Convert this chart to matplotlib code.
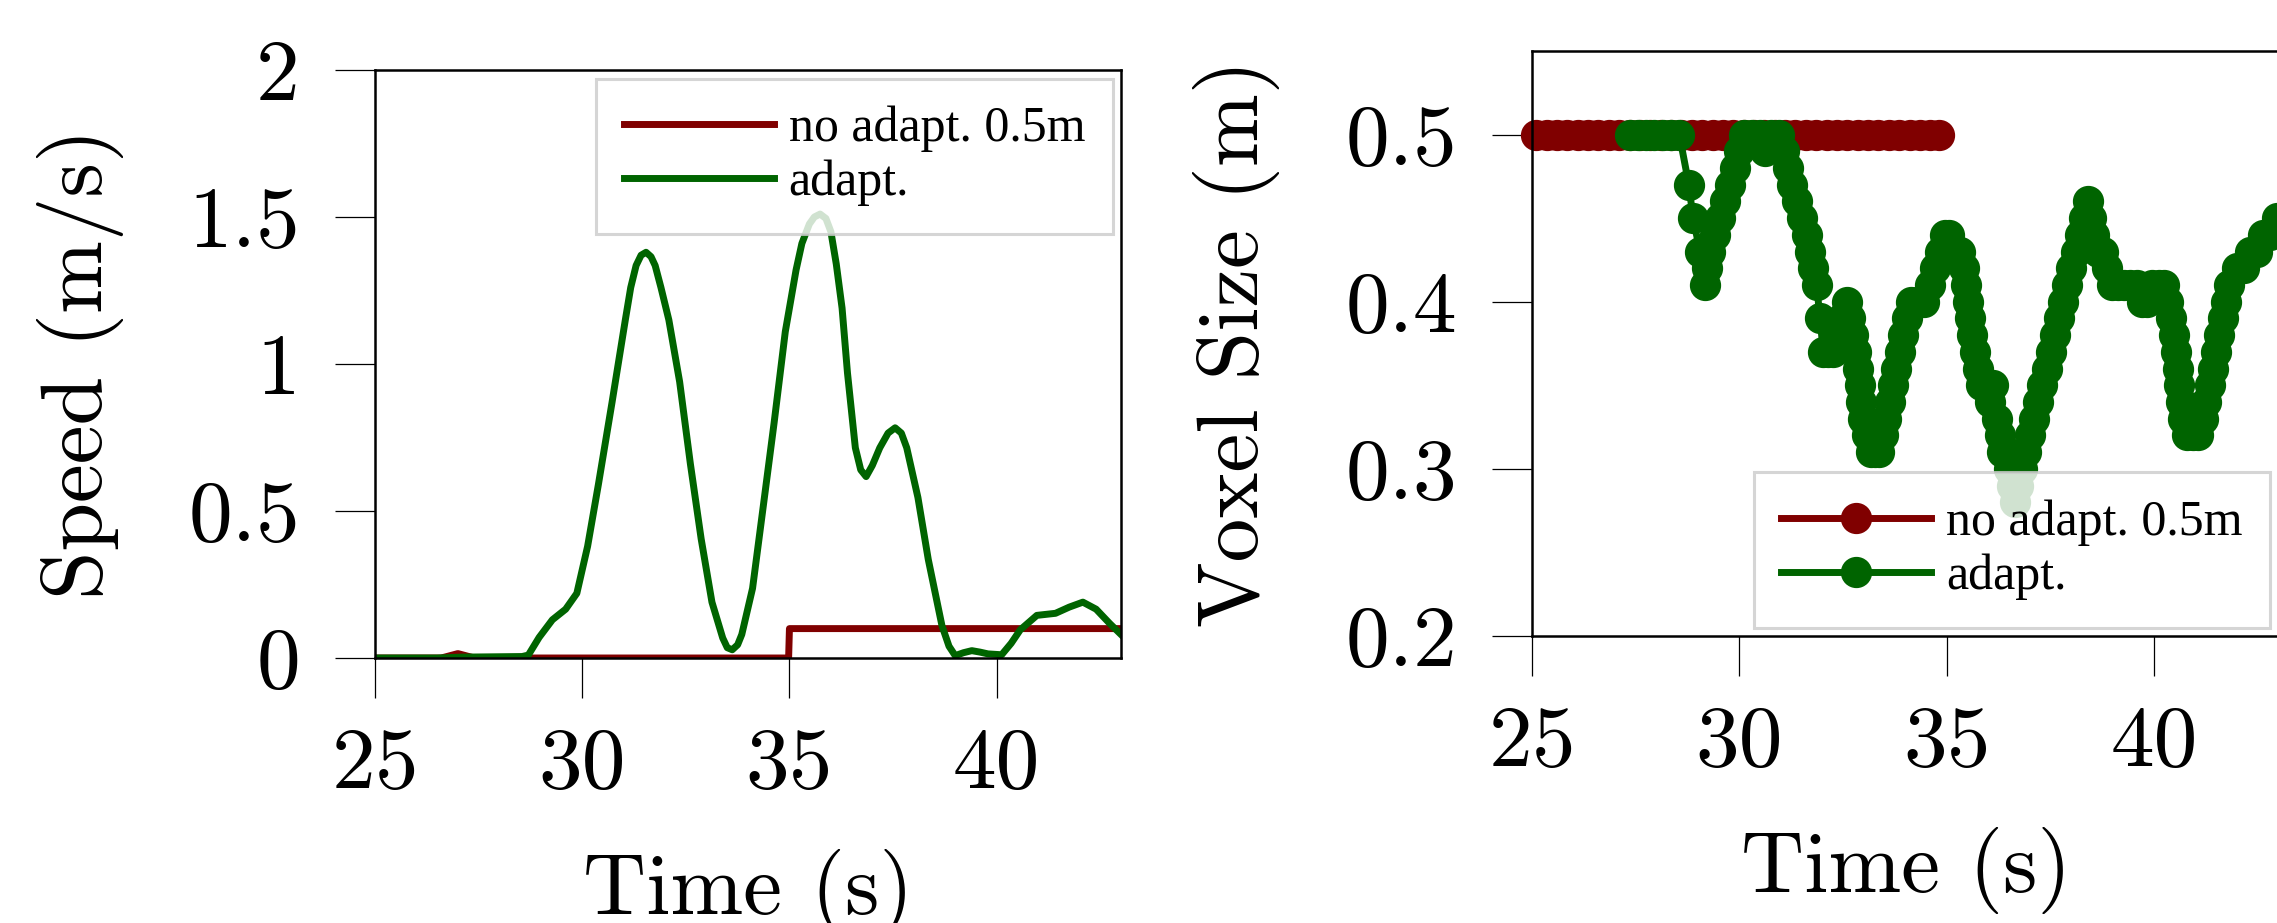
import matplotlib
matplotlib.use("Agg")
import matplotlib.pyplot as plt
from matplotlib.font_manager import FontProperties

# =====================================================
# DATA
# =====================================================

# left: speed over time
speed_noadapt_t = [25.0, 26.6, 27.0, 27.4, 28.0, 34.98, 35.0, 43.0]
speed_noadapt_v = [0.0, 0.0, 0.015, 0.0, 0.0, 0.0, 0.1, 0.1]

speed_adapt_t = [25.0, 26.5, 27.1, 28.55, 28.7, 28.96, 29.28, 29.6, 29.87, 30.13,
                 30.39, 30.72, 31.04, 31.17, 31.3, 31.42, 31.54, 31.66, 31.76, 31.9,
                 32.09, 32.35, 32.61, 32.87, 33.13, 33.39, 33.5, 33.62, 33.75, 33.85,
                 34.11, 34.37, 34.63, 34.9, 35.16, 35.3, 35.48, 35.6, 35.74, 35.88,
                 36.0, 36.13, 36.27, 36.4, 36.59, 36.72, 36.85, 37.0, 37.18, 37.38,
                 37.55, 37.7, 37.83, 38.1, 38.35, 38.68, 38.85, 39.0, 39.2, 39.4,
                 39.6, 39.79, 40.12, 40.35, 40.57, 40.97, 41.42, 41.75, 42.08, 42.4,
                 42.73, 43.0]
speed_adapt_v = [0.0, 0.0, 0.003, 0.005, 0.01, 0.07, 0.13, 0.166, 0.22, 0.38,
                 0.59, 0.87, 1.15, 1.26, 1.335, 1.37, 1.38, 1.365, 1.335, 1.26,
                 1.15, 0.94, 0.66, 0.405, 0.19, 0.068, 0.035, 0.028, 0.045, 0.08,
                 0.237, 0.518, 0.8, 1.11, 1.32, 1.41, 1.476, 1.5, 1.51, 1.495,
                 1.45, 1.34, 1.19, 0.97, 0.715, 0.64, 0.617, 0.655, 0.715, 0.765,
                 0.783, 0.765, 0.715, 0.546, 0.335, 0.11, 0.04, 0.008, 0.018, 0.025,
                 0.02, 0.014, 0.011, 0.05, 0.096, 0.145, 0.152, 0.173, 0.19, 0.166,
                 0.117, 0.08]

# right: voxel size over time
voxel_noadapt_t = [25.1, 25.35, 25.6, 25.85, 26.1, 26.35, 26.6, 26.85, 27.1, 27.35,
                   27.6, 27.85, 28.1, 28.35, 28.6, 28.85, 29.1, 29.35, 29.6, 29.85,
                   30.1, 30.35, 30.6, 30.85, 31.1, 31.35, 31.6, 31.85, 32.1, 32.35,
                   32.6, 32.85, 33.1, 33.35, 33.6, 33.85, 34.1, 34.35, 34.6, 34.8]
voxel_noadapt_v = [0.5] * len(voxel_noadapt_t)

voxel_adapt_t = [27.35, 27.55, 27.75, 27.95, 28.15, 28.35, 28.55,
                 28.78, 28.88, 29.05, 29.16,
                 29.22, 29.29, 29.41, 29.53, 29.65, 29.77, 29.89, 30.0, 30.1,
                 30.3, 30.5, 30.62, 30.75, 30.95, 31.08, 31.17,
                 31.26, 31.38, 31.5, 31.62, 31.7, 31.78, 31.86, 31.94, 32.02, 32.14,
                 32.26, 32.36, 32.46, 32.58, 32.67, 32.74, 32.8, 32.86, 32.9, 32.94,
                 32.98, 33.08, 33.16, 33.26, 33.36, 33.46, 33.54, 33.62, 33.7, 33.78,
                 33.86, 33.95, 34.04, 34.13, 34.28, 34.45, 34.59, 34.71, 34.83, 34.95,
                 35.05, 35.2, 35.31,
                 35.4, 35.45, 35.5, 35.55, 35.61, 35.67, 35.75, 35.83, 35.97, 36.04,
                 36.11, 36.2, 36.27, 36.33, 36.44, 36.5, 36.56, 36.65,
                 36.72, 36.8, 36.9, 37.0, 37.1, 37.2, 37.3, 37.4, 37.5, 37.6,
                 37.7, 37.8, 37.9, 38.0, 38.1, 38.2, 38.3, 38.4,
                 38.48, 38.55, 38.63, 38.75, 38.85, 38.97, 39.12, 39.27, 39.42, 39.57,
                 39.7, 39.82, 39.95, 40.1, 40.24, 40.33, 40.4, 40.46, 40.51, 40.56,
                 40.6, 40.65, 40.7, 40.78, 40.92, 41.06, 41.17, 41.25, 41.33, 41.41,
                 41.48, 41.56, 41.65, 41.72, 41.8, 41.98, 42.15, 42.3, 42.47, 42.62,
                 42.78, 42.95]
voxel_adapt_v = [0.5, 0.5, 0.5, 0.5, 0.5, 0.5, 0.5,
                 0.47, 0.45, 0.43, 0.41,
                 0.42, 0.43, 0.44, 0.45, 0.46, 0.47, 0.48, 0.49, 0.5,
                 0.5, 0.5, 0.49, 0.5, 0.5, 0.49, 0.48,
                 0.47, 0.46, 0.45, 0.44, 0.43, 0.42, 0.41, 0.39, 0.37, 0.37,
                 0.37, 0.38, 0.39, 0.40, 0.39, 0.38, 0.37, 0.36, 0.35, 0.34,
                 0.33, 0.32, 0.31, 0.31, 0.31, 0.32, 0.33, 0.34, 0.35, 0.36,
                 0.37, 0.38, 0.39, 0.40, 0.40, 0.40, 0.41, 0.42, 0.43, 0.44,
                 0.44, 0.43, 0.43,
                 0.42, 0.41, 0.40, 0.39, 0.38, 0.37, 0.36, 0.35, 0.35, 0.34,
                 0.35, 0.33, 0.32, 0.31, 0.31, 0.30, 0.29, 0.28,
                 0.29, 0.30, 0.31, 0.32, 0.33, 0.34, 0.35, 0.36, 0.37, 0.38,
                 0.39, 0.40, 0.41, 0.42, 0.43, 0.44, 0.45, 0.46,
                 0.45, 0.44, 0.43, 0.43, 0.42, 0.41, 0.41, 0.41, 0.41, 0.41,
                 0.40, 0.40, 0.41, 0.41, 0.41, 0.40, 0.39, 0.38, 0.37, 0.36,
                 0.35, 0.34, 0.33, 0.32, 0.32, 0.32, 0.33, 0.34, 0.35, 0.36,
                 0.37, 0.38, 0.39, 0.40, 0.41, 0.42, 0.42, 0.43, 0.43, 0.44,
                 0.44, 0.45]

x_ticks = [25, 30, 35, 40]
speed_ticks = [0, 0.5, 1, 1.5, 2]
speed_ticklabels = ["0", "0.5", "1", "1.5", "2"]
voxel_ticks = [0.2, 0.3, 0.4, 0.5]
voxel_ticklabels = ["0.2", "0.3", "0.4", "0.5"]

labels = ["no adapt. 0.5m", "adapt."]

# =====================================================
# STYLE
# =====================================================

RED = "#800000"
GREEN = "#006400"
FS = 63
LW = 5.0

plt.rcParams["font.family"] = "cmr10"
plt.rcParams["mathtext.fontset"] = "cm"
plt.rcParams["axes.formatter.use_mathtext"] = True

W, H = 2277, 923
fig = plt.figure(figsize=(W / 100, H / 100), dpi=100)

ax1 = fig.add_axes([375 / W, 1 - 658 / H, 746 / W, 588 / H])
ax2 = fig.add_axes([1532 / W, 1 - 636 / H, 749 / W, 585 / H])

legend_font = FontProperties(family="Liberation Serif", size=36)


def style_axes(ax):
    for s in ax.spines.values():
        s.set_linewidth(1.8)
    ax.tick_params(direction="out", length=29, width=0.9, labelsize=FS,
                   top=False, right=False)
    ax.tick_params(axis="y", pad=25)
    ax.tick_params(axis="x", pad=21)
    ax.set_xlabel("Time (s)", fontsize=FS, labelpad=32)
    ax.yaxis.set_label_coords(-0.336, 0.5)


def style_legend(leg):
    fr = leg.get_frame()
    fr.set_linewidth(2.2)
    fr.set_edgecolor("#cccccc")
    fr.set_alpha(0.82)


# Speed
ax1.plot(speed_noadapt_t, speed_noadapt_v, color=RED, lw=LW, label=labels[0])
ax1.plot(speed_adapt_t, speed_adapt_v, color=GREEN, lw=LW, label=labels[1])
ax1.set_xlim(25, 43)
ax1.set_ylim(0, 2)
ax1.set_xticks(x_ticks)
ax1.set_xticklabels([str(t) for t in x_ticks])
ax1.set_yticks(speed_ticks)
ax1.set_yticklabels(speed_ticklabels)
ax1.set_ylabel("Speed (m/s)", fontsize=FS)
style_axes(ax1)

leg1 = ax1.legend(loc="upper right", prop=legend_font, fancybox=False,
                  handlelength=3.0, handletextpad=0.3, borderpad=0.55,
                  labelspacing=0.14, borderaxespad=0.17)
style_legend(leg1)

# Voxel size
ax2.plot(voxel_noadapt_t, voxel_noadapt_v, "-o", color=RED, lw=LW, ms=21.5,
         mew=1.0, clip_on=False, label=labels[0])
ax2.plot(voxel_adapt_t, voxel_adapt_v, "-o", color=GREEN, lw=LW, ms=21.5,
         mew=1.0, clip_on=False, label=labels[1])
ax2.set_xlim(25, 43.05)
ax2.set_ylim(0.2, 0.55)
ax2.set_xticks(x_ticks)
ax2.set_xticklabels([str(t) for t in x_ticks])
ax2.set_yticks(voxel_ticks)
ax2.set_yticklabels(voxel_ticklabels)
ax2.set_ylabel("Voxel Size (m)", fontsize=FS)
style_axes(ax2)

leg2 = ax2.legend(loc="lower right", prop=legend_font, fancybox=False,
                  handlelength=3.0, handletextpad=0.3, borderpad=0.55,
                  labelspacing=0.14, borderaxespad=0.17, numpoints=1,
                  bbox_to_anchor=((2270 - 1532) / 749 + 0.012, 0.0))
style_legend(leg2)

fig.savefig("out.png", dpi=100)
